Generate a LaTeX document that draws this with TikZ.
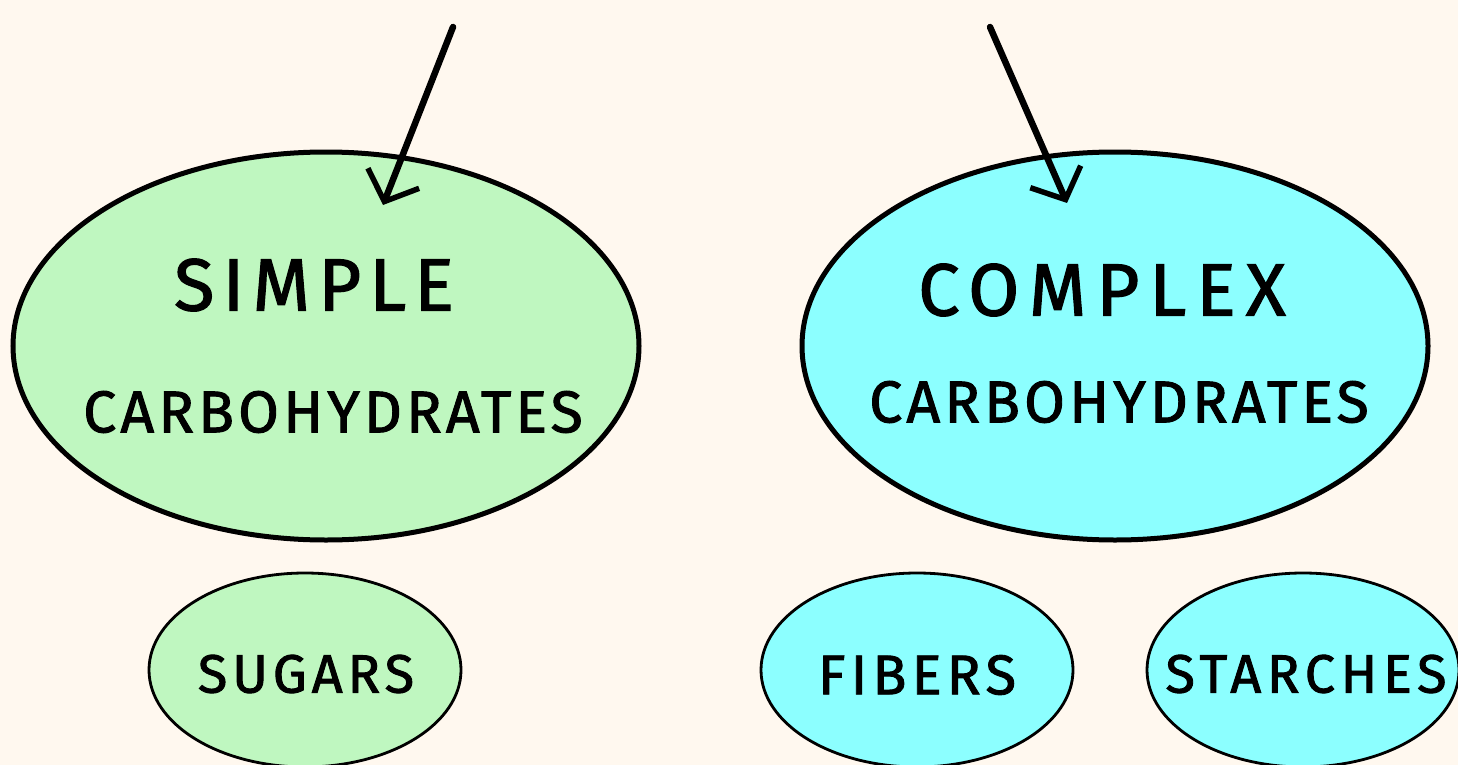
\documentclass[tikz,border=0pt]{standalone}
\usepackage{fontspec}
\newfontfamily\handfont{Fira Sans}[FakeBold=1.6]
\usetikzlibrary{shapes.geometric,arrows.meta}
\definecolor{paper}{HTML}{FFF8EF}
\definecolor{simplegreen}{HTML}{BFF7C0}
\definecolor{complexcyan}{HTML}{8CFFFF}
% spaced capitals: size, letter spacing, text
\newcommand\spacedcaps[3]{{\fontsize{#1}{#1}\selectfont\handfont\addfontfeature{LetterSpace=#2}#3}}
\tikzset{
  bigoval/.style={ellipse, draw=black, line width=5pt, inner sep=0pt,
    minimum width=626pt, minimum height=388pt},
  smalloval/.style={ellipse, draw=black, line width=2.8pt, inner sep=0pt,
    minimum width=312pt, minimum height=194pt},
  word/.style={inner sep=0pt, anchor=center},
  pointer/.style={line width=6.5pt, line cap=round,
    -{Straight Barb[length=25pt,width=55pt,line width=5.5pt]}}
}
\begin{document}
\begin{tikzpicture}[x=1pt,y=-1pt]
  \fill[paper] (0,0) rectangle (1458,765);
  \useasboundingbox (0,0) rectangle (1458,765);

  % main categories
  \node[bigoval, fill=simplegreen] (simple) at (326,346) {};
  \node[bigoval, fill=complexcyan] (complex) at (1115,346) {};
  \node[word] (simpleA) at (314,285) {\spacedcaps{74pt}{11}{SIMPLE}};
  \node[word] (simpleB) at (333,412) {\spacedcaps{59pt}{7}{CARBOHYDRATES}};
  \node[word] (complexA) at (1102,290) {\spacedcaps{74pt}{13.5}{COMPLEX}};
  \node[word] (complexB) at (1119,402) {\spacedcaps{59pt}{7}{CARBOHYDRATES}};

  % sub categories
  \node[smalloval, fill=simplegreen] (sugars) at (305,670) {};
  \node[smalloval, fill=complexcyan] (fibers) at (917,670) {};
  \node[smalloval, fill=complexcyan] (starches) at (1303,670) {};
  \node[word] (sugarsT) at (306,674) {\spacedcaps{54pt}{9}{SUGARS}};
  \node[word] (fibersT) at (917,675) {\spacedcaps{56pt}{9.3}{FIBERS}};
  \node[word] (starchesT) at (1306,674) {\spacedcaps{54pt}{10.5}{STARCHES}};

  % incoming pointers
  \coordinate (fromA) at (453,27);
  \coordinate (toA) at (383,205);
  \coordinate (fromB) at (990,27);
  \coordinate (toB) at (1067,203);
  \draw[pointer] (fromA) -- (toA);
  \draw[pointer] (fromB) -- (toB);
\end{tikzpicture}
\end{document}
